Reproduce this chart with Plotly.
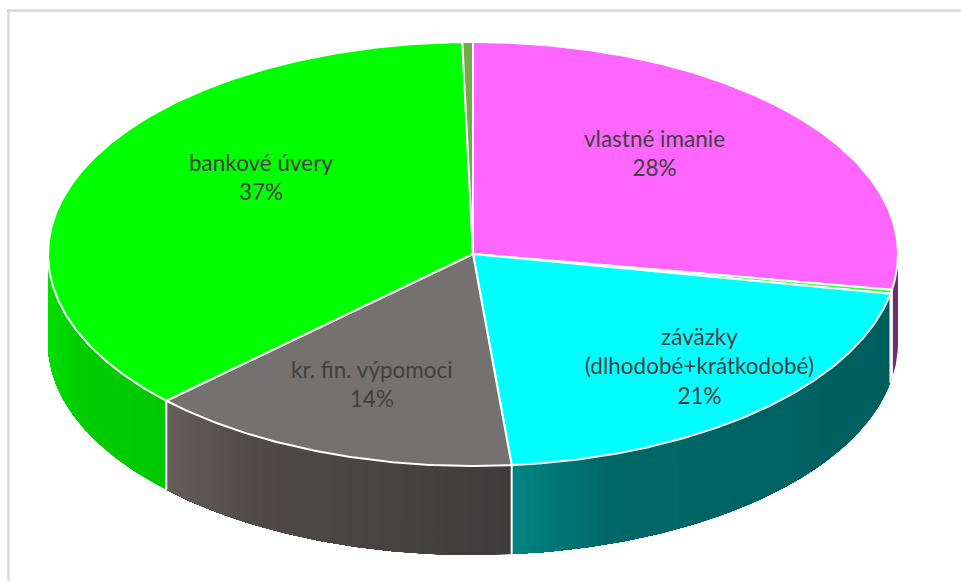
import math
import plotly.graph_objects as go

# Data
categories = ["vlastné imanie", "", "záväzky<br>(dlhodobé+krátkodobé)", "kr. fin. výpomoci", "bankové úvery", ""]
values = [27.7, 0.3, 20.55, 14.28, 36.77, 0.4]
top_colors = ["#ff66ff", "#33ff33", "#00ffff", "#767171", "#00ff00", "#70ad47"]
side_left = ["#6f2f6f", "#6f2f6f", "#008484", "#635d5b", "#00e000", "#70ad47"]
side_mid = ["#6f2f6f", "#6f2f6f", "#006868", "#504b4a", "#00cc00", "#70ad47"]
side_right = ["#6f2f6f", "#6f2f6f", "#005e5e", "#3e3c3c", "#00c800", "#70ad47"]

# Layout of the projected disc (pixels)
CX, CY, RX, RY, DEPTH = 473.0, 254.0, 425.0, 212.0, 89.0
W, H = 961, 581
label_pos = [(654, 153), None, (699, 366), (372, 384), (261, 177), None]
FONT = "Lato, Carlito, Calibri, sans-serif"


def pt(t, drop=0.0):
    r = math.radians(t)
    return CX + RX * math.sin(r), CY - RY * math.cos(r) + drop


def arc(a, b, drop=0.0, step=0.5):
    n = max(2, int(abs(b - a) / step) + 1)
    return [pt(a + (b - a) * i / (n - 1), drop) for i in range(n)]


def lerp_hex(c1, c2, f):
    a = [int(c1[i:i + 2], 16) for i in (1, 3, 5)]
    b = [int(c2[i:i + 2], 16) for i in (1, 3, 5)]
    return "#%02x%02x%02x" % tuple(round(x + (y - x) * f) for x, y in zip(a, b))


def colour_at(i, f):
    if f < 0.25:
        return lerp_hex(side_left[i], side_mid[i], f / 0.25)
    return lerp_hex(side_mid[i], side_right[i], (f - 0.25) / 0.75)


def poly(points, fill, line_color=None, line_width=0):
    xs = [p[0] for p in points] + [points[0][0]]
    ys = [p[1] for p in points] + [points[0][1]]
    return go.Scatter(x=xs, y=ys, mode="lines", fill="toself", fillcolor=fill,
                      line=dict(color=line_color or fill, width=line_width),
                      hoverinfo="skip", showlegend=False)


fig = go.Figure()
total = sum(values)
angles = [0.0]
for v in values:
    angles.append(angles[-1] + v / total * 360.0)

# Side walls (only the front half, 90..270 degrees, is visible)
for i in range(len(values)):
    a, b = max(angles[i], 90.0), min(angles[i + 1], 270.0)
    if b <= a:
        continue
    xa, xb = pt(a)[0], pt(b)[0]
    n = max(1, int(abs(xa - xb) / 5))
    # Each strip runs to the end of the wedge, painted over the last, so no seams show
    for k in range(n):
        t0 = a + (b - a) * k / n
        t1 = a + (b - a) * (k + 1) / n
        xm = (pt(t0)[0] + pt(t1)[0]) / 2
        f = (xm - min(xa, xb)) / max(1e-6, abs(xa - xb))
        col = colour_at(i, f)
        pts = arc(t0, b, 0.0) + arc(b, t0, DEPTH)
        fig.add_trace(poly(pts, col, col, 0))

# White separators on the walls
for i in range(len(values)):
    a = angles[i]
    if 90 < a < 270:
        p, q = pt(a), pt(a, DEPTH)
        fig.add_trace(go.Scatter(x=[p[0], q[0]], y=[p[1], q[1]], mode="lines",
                                 line=dict(color="white", width=2),
                                 hoverinfo="skip", showlegend=False))

# Top face
for i in range(len(values)):
    pts = [(CX, CY)] + arc(angles[i], angles[i + 1])
    fig.add_trace(poly(pts, top_colors[i], "white", 2))

annotations = []
for i, cat in enumerate(categories):
    if not cat:
        continue
    x, y = label_pos[i]
    annotations.append(dict(x=x, y=y, xref="x", yref="y", showarrow=False,
                            text=f"{cat}<br>{round(values[i])}%", align="center",
                            font=dict(family=FONT, size=22.5, color="#404040")))

fig.update_layout(
    width=W, height=H, margin=dict(l=0, r=0, t=0, b=0),
    paper_bgcolor="white", plot_bgcolor="white", showlegend=False,
    xaxis=dict(range=[0, W], visible=False, fixedrange=True),
    yaxis=dict(range=[H, 0], visible=False, fixedrange=True),
    annotations=annotations,
    shapes=[
        dict(type="line", xref="x", yref="y", x0=7, y0=10.5, x1=W, y1=10.5,
             line=dict(color="#d9d9d9", width=2.5)),
        dict(type="line", xref="x", yref="y", x0=8.5, y0=9, x1=8.5, y1=H,
             line=dict(color="#d9d9d9", width=2.5)),
    ],
)

# The browser's default 8px page margin would otherwise shift the whole picture
fig.write_html("out.html", post_script="document.body.style.margin='0';",
               config={"displayModeBar": False})
